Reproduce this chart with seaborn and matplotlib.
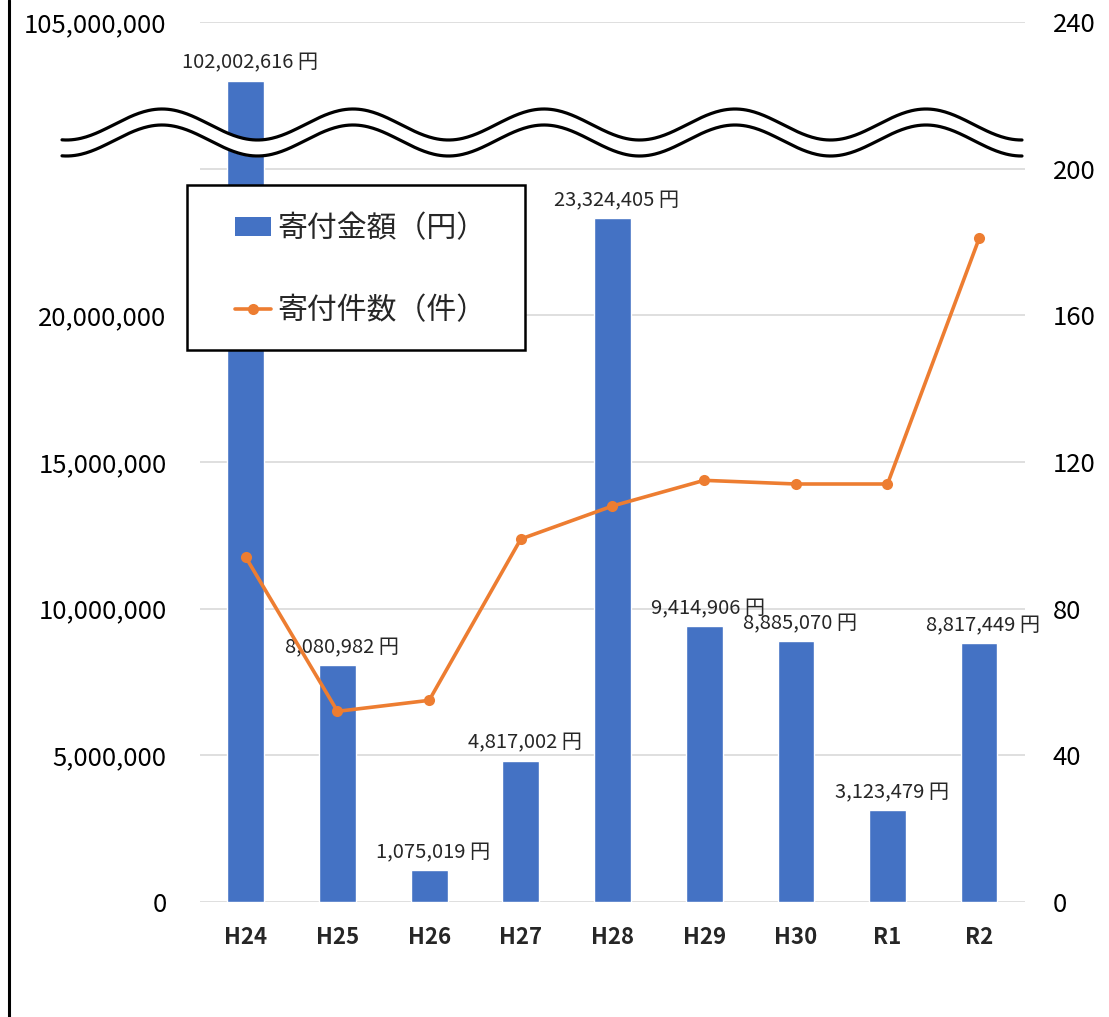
import numpy as np
import pandas as pd
import seaborn as sns
import matplotlib.pyplot as plt
from matplotlib.lines import Line2D
from matplotlib.patches import Rectangle, Patch

# data
years = ['H24', 'H25', 'H26', 'H27', 'H28', 'H29', 'H30', 'R1', 'R2']
amounts = [102002616, 8080982, 1075019, 4817002, 23324405, 9414906, 8885070, 3123479, 8817449]
counts = [94, 52, 55, 99, 108, 115, 114, 114, 181]

left_ticks = [0, 5e6, 10e6, 15e6, 20e6, 25e6, 30e6]
left_labels = ['0', '5,000,000', '10,000,000', '15,000,000', '20,000,000', '', '105,000,000']
right_ticks = [0, 40, 80, 120, 160, 200, 240]

BLUE = '#4472C4'
ORANGE = '#ED7D31'

sns.set_theme(style='white')
plt.rcParams['font.family'] = ['Noto Sans CJK JP', 'DejaVu Sans']


# broken axis: values above the break are squeezed into the top band
def to_display(v):
    if v <= 25e6:
        return v
    return 30e6 - (105e6 - v) * (2 / 3)


df = pd.DataFrame({'year': years, 'amount': amounts, 'count': counts})
df['shown'] = df['amount'].apply(to_display)

W, H = 1109, 1017
fig = plt.figure(figsize=(W / 100, H / 100), dpi=100)
ax = fig.add_axes([200 / W, 1 - 902 / H, 825 / W, 880 / H])

sns.barplot(data=df, x='year', y='shown', color=BLUE, width=0.4,
            saturation=1, ax=ax, zorder=2)
ax.set_ylim(0, 30e6)
ax.set_xlim(-0.5, 8.5)
ax.set_yticks(left_ticks)
ax.set_yticklabels(left_labels)
ax.yaxis.grid(True, color='#D9D9D9', linewidth=1.2)
ax.set_axisbelow(True)
ax.set_xlabel('')
ax.set_ylabel('')
ax.tick_params(axis='y', length=0, pad=24, labelsize=18.5, colors='black')
ax.tick_params(axis='x', length=0, pad=17, labelsize=16)
for t in ax.get_xticklabels():
    t.set_fontweight('bold')
for s in ax.spines.values():
    s.set_visible(False)

for i, row in df.iterrows():
    ax.annotate(f"{row['amount']:,} 円", (i, row['shown']),
                xytext=(3, 5), textcoords='offset points',
                ha='center', va='bottom', fontsize=14.5)

ax2 = ax.twinx()
sns.lineplot(data=df, x='year', y='count', color=ORANGE, linewidth=2.6,
             marker='o', markersize=8, markeredgewidth=0, ax=ax2, sort=False)
ax2.set_ylim(0, 240)
ax2.set_yticks(right_ticks)
ax2.set_ylabel('')
ax2.tick_params(axis='y', length=0, pad=20, labelsize=18.5, colors='black')
for s in ax2.spines.values():
    s.set_visible(False)

# wavy break mark across the chart
xs = np.linspace(62, 1022, 600)
top = 124.5 - 15.5 * np.cos(2 * np.pi * (xs - 162) / 191)
bot = top + 16
tf = fig.transFigure
ax2.fill_between(xs / W, 1 - top / H, 1 - bot / H, color='white',
                 transform=tf, clip_on=False, zorder=6)
ax2.plot(xs / W, 1 - top / H, color='black', lw=2.3, transform=tf, clip_on=False, zorder=7)
ax2.plot(xs / W, 1 - bot / H, color='black', lw=2.3, transform=tf, clip_on=False, zorder=7)

# legend box
ax2.add_patch(Rectangle((187 / W, 1 - 350 / H), 338 / W, 165 / H, transform=tf,
                        facecolor='white', edgecolor='black', lw=1.8,
                        clip_on=False, zorder=8))
handles = [Patch(facecolor=BLUE, edgecolor='none'),
           Line2D([], [], color=ORANGE, lw=2.6, marker='o', markersize=8, markeredgewidth=0)]
leg = ax2.legend(handles, ['寄付金額（円）', '寄付件数（件）'], loc='upper left',
                 bbox_to_anchor=(235 / W, 1 - 213 / H), bbox_transform=tf,
                 frameon=False, fontsize=21.5, handlelength=1.2, handleheight=0.57,
                 handletextpad=0.2, labelspacing=1.7, borderpad=0, borderaxespad=0)
leg.set_zorder(9)

# left border of the sheet
fig.add_artist(Line2D([9 / W, 9 / W], [0, 1], color='black', lw=2.2, transform=tf))

fig.savefig('out.png', dpi=100, facecolor='white')
